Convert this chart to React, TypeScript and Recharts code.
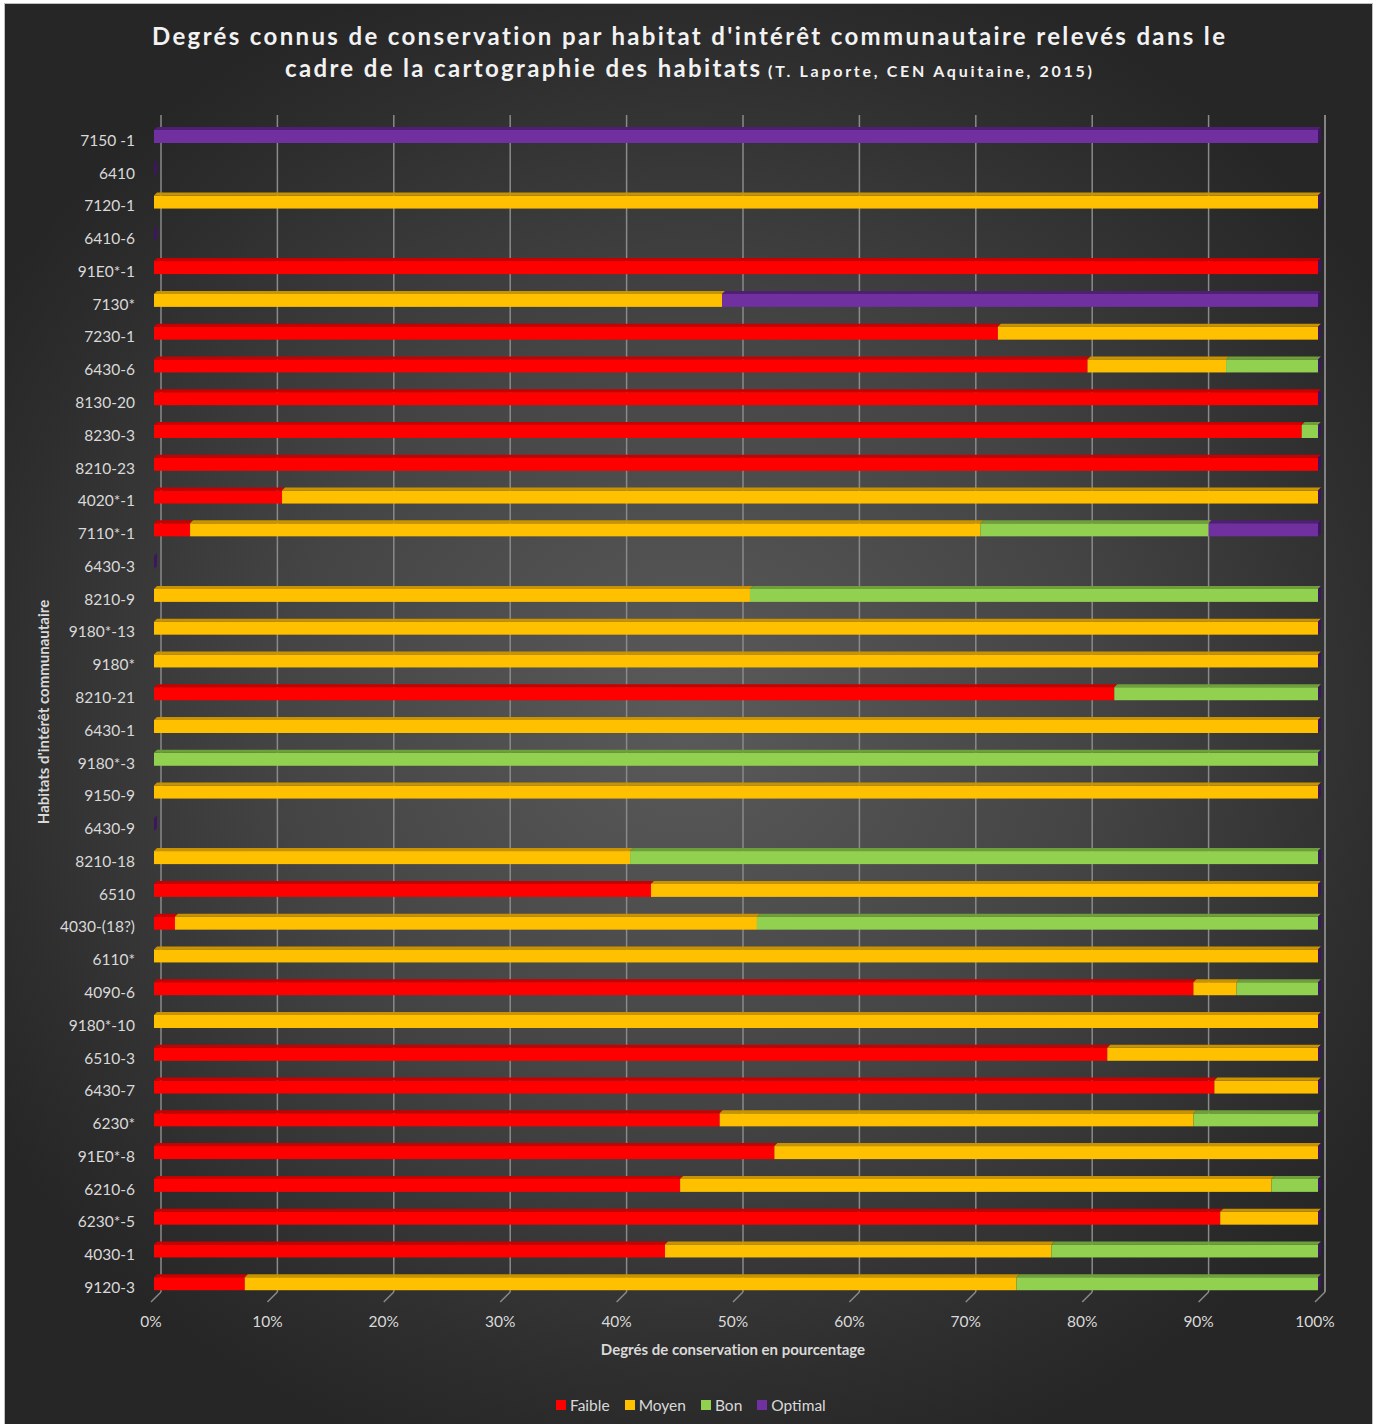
import { Bar, BarChart, CartesianGrid, XAxis, YAxis } from 'recharts'

// Habitats, top to bottom
const habitats = [
  '7150 -1', '6410', '7120-1', '6410-6', '91E0*-1', '7130*', '7230-1', '6430-6',
  '8130-20', '8230-3', '8210-23', '4020*-1', '7110*-1', '6430-3', '8210-9', '9180*-13',
  '9180*', '8210-21', '6430-1', '9180*-3', '9150-9', '6430-9', '8210-18', '6510',
  '4030-(18?)', '6110*', '4090-6', '9180*-10', '6510-3', '6430-7', '6230*', '91E0*-8',
  '6210-6', '6230*-5', '4030-1', '9120-3',
]

// share of each conservation degree (%)
const faible = [
  0, 0, 0, 0, 100, 0, 72.5, 80.2, 100, 98.6, 100, 11.0, 3.1, 0, 0, 0,
  0, 82.5, 0, 0, 0, 0, 0, 42.7, 1.8, 0, 89.3, 0, 81.9, 91.1, 48.6, 53.3,
  45.2, 91.6, 43.9, 7.8,
]
const moyen = [
  0, 0, 100, 0, 0, 48.8, 27.5, 11.9, 0, 0, 0, 89.0, 67.9, 0, 51.2, 100,
  100, 0, 100, 0, 100, 0, 40.9, 57.3, 50.0, 100, 3.7, 100, 18.1, 8.9, 40.7, 46.7,
  50.8, 8.4, 33.2, 66.3,
]
const bon = [
  0, 0, 0, 0, 0, 0, 0, 7.9, 0, 1.4, 0, 0, 19.6, 0, 48.8, 0,
  0, 17.5, 0, 100, 0, 0, 59.1, 0, 48.2, 0, 7.0, 0, 0, 0, 10.7, 0,
  4.0, 0, 22.9, 25.9,
]
const optimal = [
  100, 0, 0, 0, 0, 51.2, 0, 0, 0, 0, 0, 0, 9.4, 0, 0, 0,
  0, 0, 0, 0, 0, 0, 0, 0, 0, 0, 0, 0, 0, 0, 0, 0,
  0, 0, 0, 0,
]

const xTicks = [0, 10, 20, 30, 40, 50, 60, 70, 80, 90, 100]

const series = [
  { key: 'faible', name: 'Faible', color: '#ff0000', top: '#c80000' },
  { key: 'moyen', name: 'Moyen', color: '#ffc000', top: '#c99300' },
  { key: 'bon', name: 'Bon', color: '#92d050', top: '#6f9f3b' },
  { key: 'optimal', name: 'Optimal', color: '#7030a0', top: '#4f1f75' },
]

const data = habitats.map((name, i) => ({
  name,
  faible: faible[i],
  moyen: moyen[i],
  bon: bon[i],
  optimal: optimal[i],
}))

const FONT = 'Lato, "Open Sans", sans-serif'
const TEXT = '#d9d9d9'
const DEPTH = 3
const WALL = 7 // back wall offset of the 3D gridlines

// flat 3D-ish bar: front face plus a darker top face, last series gets a side cap
const barShape = (color: string, top: string, cap: boolean) => (props: any) => {
  const { x, y, width, height } = props
  const w = Math.max(0, width)
  return (
    <g>
      {w > 0 && (
        <>
          <rect x={x} y={y + DEPTH} width={w} height={height - DEPTH} fill={color} />
          <polygon
            points={`${x},${y + DEPTH} ${x + DEPTH},${y} ${x + w + DEPTH},${y} ${x + w},${y + DEPTH}`}
            fill={top}
          />
        </>
      )}
      {cap && (
        <polygon
          points={`${x + w},${y + DEPTH} ${x + w + DEPTH},${y} ${x + w + DEPTH},${y + height - DEPTH} ${x + w},${y + height}`}
          fill="#3d1661"
        />
      )}
    </g>
  )
}

const gridLine = (props: any) => {
  const { x1, y1, y2, key } = props
  return (
    <line
      key={key}
      x1={x1 + WALL}
      x2={x1 + WALL}
      y1={y1 - 4}
      y2={y2 - 7}
      stroke="#8a8a8a"
      strokeWidth={1.5}
    />
  )
}

const XTick = ({ x, y, payload }: any) => {
  const bottom = y - 17
  return (
    <g>
      <line x1={x + WALL} y1={bottom - 7} x2={x - 3} y2={bottom + 3} stroke="#8a8a8a" strokeWidth={1.5} />
      <text x={x - 3} y={y} dy="0.72em" textAnchor="middle" fill={TEXT} fontSize={15.5} fontFamily={FONT}>
        {payload.value}%
      </text>
    </g>
  )
}

const YTick = ({ x, y, payload }: any) => (
  <text x={x} y={y + 5} dy="0.35em" textAnchor="end" fill={TEXT} fontSize={15.5} fontFamily={FONT}>
    {payload.value}
  </text>
)

const App = () => {
  return (
    <div style={{ position: 'absolute', left: 0, top: 0, width: 1378, height: 1424, background: '#ffffff' }}>
      <div
        style={{
          position: 'absolute',
          left: 5,
          top: 4,
          width: 1367,
          height: 1420,
          boxShadow: '0 0 0 1px #bfbfbf',
          background:
            'radial-gradient(ellipse 60% 55% at 50% 50%, #5a5a5a 0%, #444444 50%, #2e2e2e 85%, #262626 100%)',
        }}
      />
      <svg
        width={1378}
        height={1424}
        style={{ position: 'absolute', left: 0, top: 0, pointerEvents: 'none', fontVariantLigatures: 'none' }}
        fontFamily={FONT}
      >
        <text x={152} y={45} fill="#f2f2f2" fontSize={24} fontWeight={700} textLength={1073} lengthAdjust="spacing">
          Degrés connus de conservation par habitat d'intérêt communautaire relevés dans le
        </text>
        <text x={285} y={77} fill="#f2f2f2" fontSize={24} fontWeight={700} textLength={475} lengthAdjust="spacing">
          cadre de la cartographie des habitats
        </text>
        <text x={768} y={77} fill="#f2f2f2" fontSize={16} fontWeight={700} textLength={324} lengthAdjust="spacing">
          (T. Laporte, CEN Aquitaine, 2015)
        </text>
        <text
          x={49}
          y={712}
          transform="rotate(-90 49 712)"
          textAnchor="middle"
          fill={TEXT}
          fontSize={15}
          fontWeight={700}
        >
          Habitats d'intérêt communautaire
        </text>
        <text x={733} y={1355} textAnchor="middle" fill={TEXT} fontSize={15} fontWeight={700}>
          Degrés de conservation en pourcentage
        </text>
      </svg>
      <div style={{ position: 'absolute', left: 0, top: 0 }}>
        <BarChart
          width={1378}
          height={1424}
          data={data}
          layout="vertical"
          barSize={16}
          margin={{ top: 119, right: 60, bottom: 95, left: 54 }}
        >
          <CartesianGrid horizontal={false} vertical={gridLine} />
          <XAxis
            type="number"
            domain={[0, 100]}
            ticks={xTicks}
            axisLine={false}
            tickLine={false}
            tickSize={0}
            tickMargin={17}
            height={30}
            tick={<XTick />}
            interval={0}
          />
          <YAxis
            type="category"
            dataKey="name"
            width={100}
            axisLine={false}
            tickLine={false}
            tickSize={0}
            tickMargin={19}
            tick={<YTick />}
            interval={0}
          />
          {series.map((s, i) => (
            <Bar
              key={s.key}
              dataKey={s.key}
              name={s.name}
              stackId="deg"
              fill={s.color}
              isAnimationActive={false}
              shape={barShape(s.color, s.top, i === series.length - 1)}
            />
          ))}
        </BarChart>
      </div>
      <div
        style={{
          position: 'absolute',
          left: 556,
          top: 1396,
          display: 'flex',
          alignItems: 'center',
          fontFamily: FONT,
          fontSize: 15.5,
          color: TEXT,
        }}
      >
        {series.map((s) => (
          <span key={s.key} style={{ display: 'flex', alignItems: 'center', marginRight: 15 }}>
            <span style={{ width: 10, height: 10, background: s.color, marginRight: 4, display: 'inline-block' }} />
            {s.name}
          </span>
        ))}
      </div>
    </div>
  )
}

export default App
